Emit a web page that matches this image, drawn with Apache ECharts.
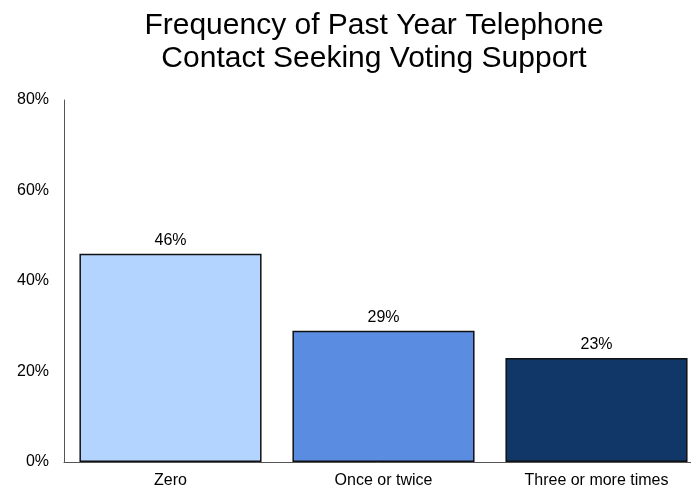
<!DOCTYPE html>
<html>
<head>
<meta charset="utf-8">
<script src="https://cdn.jsdelivr.net/npm/echarts@6/dist/echarts.min.js"></script>
<style>
  html, body { margin: 0; padding: 0; background: #fff; }
  #chart { width: 691px; height: 490px; }
</style>
</head>
<body>
<div id="chart"></div>
<script>
// Survey responses: how often people were phoned asking for their vote
const categories = ['Zero', 'Once or twice', 'Three or more times'];
const shares = [46, 29, 23];
const barColors = ['#B3D4FF', '#5A8DE2', '#113769'];
const yTicks = [0, 20, 40, 60, 80];

const chart = echarts.init(document.getElementById('chart'));
chart.setOption({
  animation: false,
  textStyle: { fontFamily: 'Liberation Sans, Arial, sans-serif' },
  title: {
    text: 'Frequency of Past Year Telephone\nContact Seeking Voting Support',
    left: 369,
    textAlign: 'center',
    top: 4,
    textStyle: { fontSize: 30, fontWeight: 'normal', color: '#000', lineHeight: 33,
      fontFamily: 'Liberation Sans, Arial, sans-serif' }
  },
  grid: { left: 64, width: 639, top: 100, bottom: 28, containLabel: false, outerBoundsMode: 'none' },
  xAxis: {
    type: 'category',
    data: categories,
    axisLine: { lineStyle: { color: '#555', width: 1 } },
    axisTick: { show: false },
    axisLabel: { color: '#000', fontSize: 16, margin: 11 }
  },
  yAxis: {
    type: 'value',
    min: yTicks[0],
    max: yTicks[yTicks.length - 1],
    interval: 20,
    axisLine: { show: true, lineStyle: { color: '#555', width: 1 } },
    axisTick: { show: false },
    splitLine: { show: false },
    axisLabel: { color: '#000', fontSize: 16, margin: 15, formatter: '{value}%' }
  },
  series: [{
    type: 'bar',
    barCategoryGap: '14.5%',
    data: shares.map((v, i) => ({
      value: v,
      itemStyle: { color: barColors[i] }
    })),
    itemStyle: { borderColor: '#111', borderWidth: 1.5 },
    label: {
      show: true,
      position: 'top',
      distance: 5,
      color: '#000',
      fontSize: 16,
      formatter: '{c}%'
    }
  }]
});
</script>
</body>
</html>
